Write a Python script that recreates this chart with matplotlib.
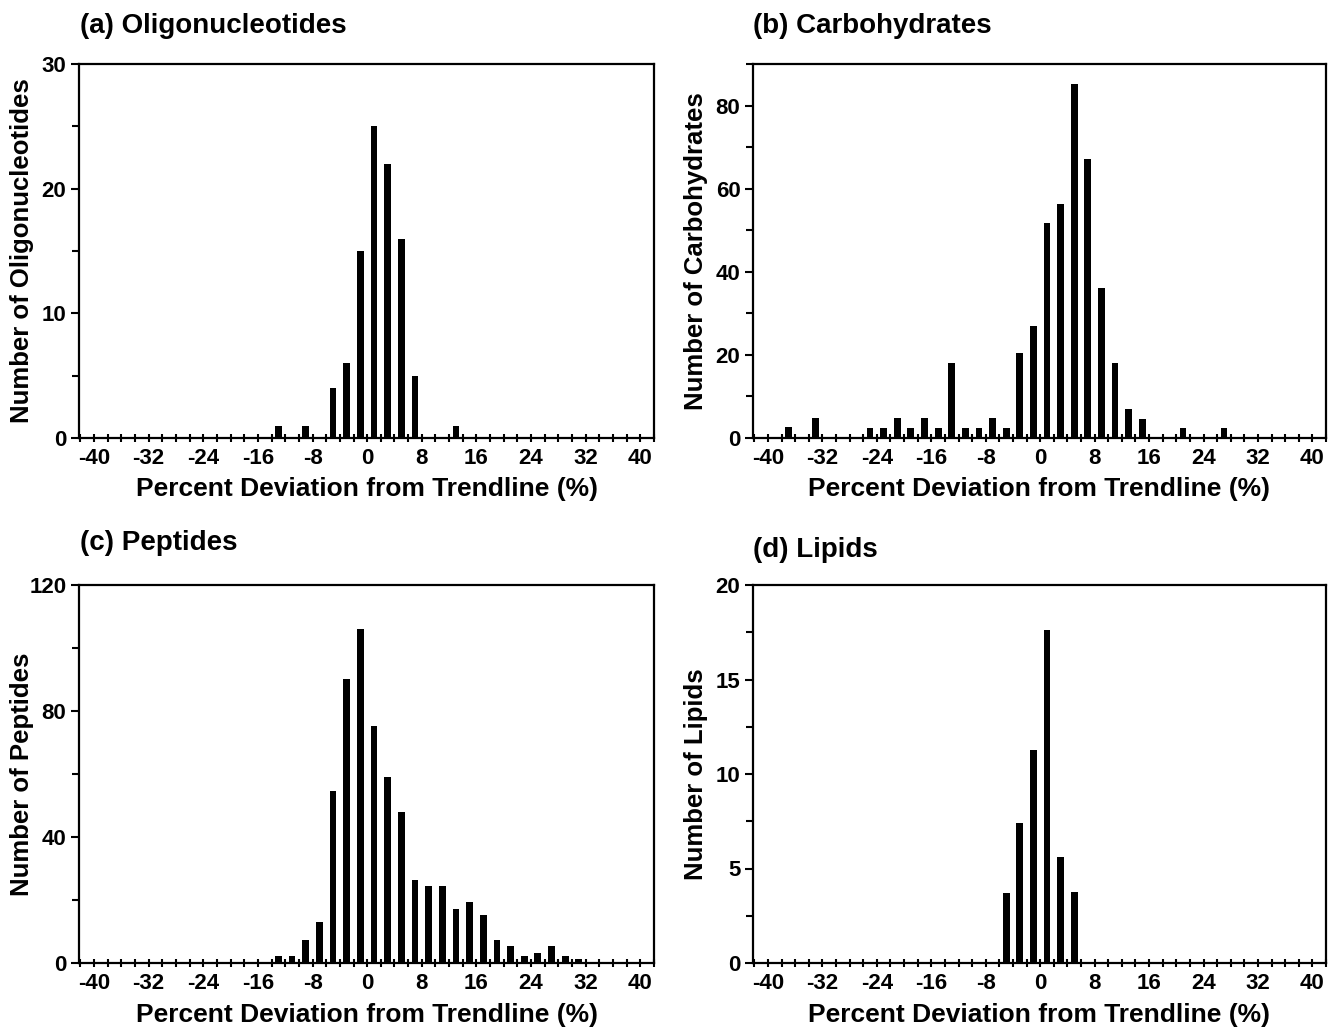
"""Histograms of percent deviation from trendline for four molecule classes."""

import matplotlib

matplotlib.use("Agg")
import matplotlib.pyplot as plt
from matplotlib.ticker import MultipleLocator

plt.rcParams["font.family"] = ["Liberation Sans", "DejaVu Sans"]
plt.rcParams["font.weight"] = "bold"
plt.rcParams["axes.unicode_minus"] = False

# bin centres (%) and counts
oligo_x = [-13, -9, -5, -3, -1, 1, 3, 5, 7, 13]
oligo_n = [1, 1, 4, 6, 15, 25, 22, 16, 5, 1]

carb_x = [-37, -33, -25, -23, -21, -19, -17, -15, -13, -11, -9, -7, -5,
          -3, -1, 1, 3, 5, 7, 9, 11, 13, 15, 21, 27]
carb_n = [2.6, 4.7, 2.5, 2.3, 4.7, 2.5, 4.7, 2.3, 18.1, 2.5, 2.5, 4.7, 2.5,
          20.4, 27.0, 51.7, 56.3, 85.2, 67.2, 36.2, 18.0, 7.0, 4.6, 2.5, 2.5]

pept_x = [-13, -11, -9, -7, -5, -3, -1, 1, 3, 5, 7, 9, 11, 13, 15, 17,
          19, 21, 23, 25, 27, 29, 31]
pept_n = [2.1, 2.1, 7.3, 13.1, 54.5, 90.3, 106.0, 75.3, 59.0, 48.0, 26.3,
          24.4, 24.4, 17.2, 19.3, 15.2, 7.3, 5.4, 2.1, 3.1, 5.3, 2.1, 1.2]

lipid_x = [-5, -3, -1, 1, 3, 5]
lipid_n = [3.7, 7.4, 11.25, 17.6, 5.6, 3.75]

panels = [
    ("(a) Oligonucleotides", "Number of Oligonucleotides", oligo_x, oligo_n, 30, 10, 5),
    ("(b) Carbohydrates", "Number of Carbohydrates", carb_x, carb_n, 90, 20, 10),
    ("(c) Peptides", "Number of Peptides", pept_x, pept_n, 120, 40, 20),
    ("(d) Lipids", "Number of Lipids", lipid_x, lipid_n, 20, 5, 2.5),
]

W, H = 1328, 1030
fig = plt.figure(figsize=(W / 100, H / 100), dpi=100)

# axes boxes in pixels: left, top, right, bottom
boxes = [(79, 64, 654, 438), (753, 64, 1326, 438),
         (79, 585, 654, 963), (753, 585, 1326, 963)]
title_pos = [(80, 26), (753, 26), (80, 543), (753, 550)]

for (title, ylab, xs, ns, ymax, ymaj, ymin), box, tpos in zip(panels, boxes, title_pos):
    l, t, r, b = box
    ax = fig.add_axes([l / W, 1 - b / H, (r - l) / W, (b - t) / H])
    ax.bar(xs, ns, width=1.0, color="black", edgecolor="none")

    ax.set_xlim(-42.2, 42)
    ax.set_ylim(0, ymax)
    ax.xaxis.set_major_locator(MultipleLocator(8))
    ax.xaxis.set_minor_locator(MultipleLocator(2))
    ax.yaxis.set_major_locator(MultipleLocator(ymaj))
    ax.yaxis.set_minor_locator(MultipleLocator(ymin))
    ax.set_xticks(range(-40, 41, 8))

    for sp in ax.spines.values():
        sp.set_linewidth(1.6)
    ax.tick_params(axis="x", which="both", direction="inout", length=6,
                   width=1.5, pad=4, labelsize=16)
    ax.tick_params(axis="y", which="major", direction="out", length=6,
                   width=1.5, pad=3, labelsize=16)
    ax.tick_params(axis="y", which="minor", direction="out", length=5, width=1.5)
    for lab in ax.get_xticklabels() + ax.get_yticklabels():
        lab.set_fontweight("bold")

    ax.set_xlabel("Percent Deviation from Trendline (%)", fontsize=19,
                  fontweight="bold", va="center")
    ax.xaxis.set_label_coords(0.5, -0.137)
    ax.set_ylabel(ylab, fontsize=18.5, fontweight="bold", va="center")
    ax.yaxis.set_label_coords(-0.099, 0.5)

    fig.text(tpos[0] / W, 1 - tpos[1] / H, title, fontsize=20,
             fontweight="bold", ha="left", va="center")

fig.savefig("out.png", dpi=100)
plt.close(fig)
